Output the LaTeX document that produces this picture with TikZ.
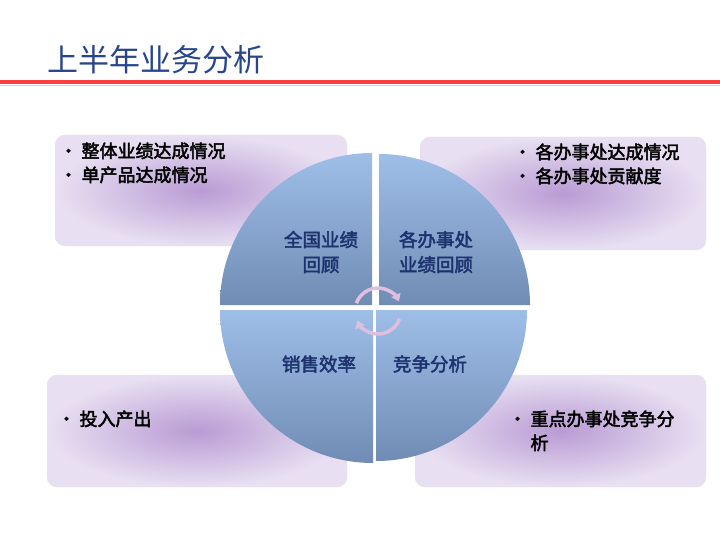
\documentclass[tikz,border=0pt]{standalone}
\usepackage{fontspec}
\newfontfamily\cjk{Noto Sans CJK SC}
\newfontfamily\cjkb[FakeBold=2.5]{Noto Sans CJK SC}
\usetikzlibrary{arrows.meta}
\definecolor{qtop}{RGB}{158,190,232}
\definecolor{qbot}{RGB}{112,140,180}
\definecolor{ttl}{RGB}{40,70,140}
\definecolor{qtxt}{RGB}{30,50,110}
\definecolor{pin}{RGB}{185,155,212}
\definecolor{pout}{RGB}{232,224,242}
\begin{document}
\begin{tikzpicture}[x=1pt,y=-1pt,
  pbox/.style={rounded corners=10pt,draw=white!80!gray,inner color=pin,outer color=pout},
  quad/.style={top color=qtop,bottom color=qbot,draw=none},
  qlab/.style={font=\cjkb\fontsize{18.5}{25}\selectfont,text=qtxt,align=center},
  blab/.style={font=\cjkb\fontsize{18}{24}\selectfont,align=left,anchor=north west},
  rarr/.style={draw=white!75!violet,line width=3.5pt,-{Triangle[length=7pt,width=10pt]}}]
\useasboundingbox (0,0) rectangle (720,540);
\node[font=\cjk\fontsize{31}{34}\selectfont,text=ttl,anchor=west] (title) at (44,60) {上半年业务分析};
\fill[red!75!white] (0,80) rectangle (720,84);
\fill[violet!20] (0,85) rectangle (720,86);
% boxes
\path[pbox] (55,135) rectangle (347,246);
\path[pbox] (420,137) rectangle (706,250);
\path[pbox] (47,375) rectangle (347,487);
\path[pbox] (415,375) rectangle (706,487);
\node[blab] (tl) at (56,139) {· 整体业绩达成情况\\· 单产品达成情况};
\node[blab] (tr) at (510,140) {· 各办事处达成情况\\· 各办事处贡献度};
\node[blab] (bl) at (54,407) {· 投入产出};
\node[blab] (br) at (505,407) {· 重点办事处竞争分\\\phantom{· }析};
% quadrants
\path[quad] (372,305) -- (220,305) arc[start angle=180,end angle=270,radius=152] -- cycle;
\path[quad] (379,305) -- (379,154) arc[start angle=270,end angle=360,radius=151] -- cycle;
\path[quad] (373,310) -- (373,463) arc[start angle=90,end angle=180,radius=153] -- cycle;
\path[quad] (376,310) -- (527,310) arc[start angle=0,end angle=90,radius=151] -- cycle;
\node[qlab] (q1) at (321,252) {全国业绩\\回顾};
\node[qlab] (q2) at (436,252) {各办事处\\业绩回顾};
\node[qlab] (q3) at (319,364) {销售效率};
\node[qlab] (q4) at (430,364) {竞争分析};
\coordinate (c) at (378,311);
\draw[rarr] ([shift={(200:23)}]c) arc[start angle=200,end angle=335,radius=23];
\draw[rarr] ([shift={(20:23)}]c) arc[start angle=20,end angle=155,radius=23];
\end{tikzpicture}
\end{document}
